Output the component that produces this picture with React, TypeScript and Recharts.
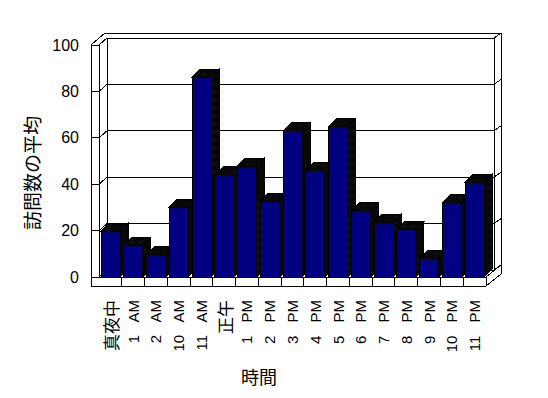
import React from 'react';
import { BarChart, Bar, XAxis, YAxis, CartesianGrid, Label } from 'recharts';

// ---- data ----
const categories = ['真夜中', '1 AM', '2 AM', '10 AM', '11 AM', '正午', '1 PM', '2 PM', '3 PM', '4 PM', '5 PM', '6 PM', '7 PM', '8 PM', '9 PM', '10 PM', '11 PM'];
const visits = [19.8, 13.6, 9.8, 30, 86, 44, 47.8, 32.6, 63, 46, 65, 28.7, 23.6, 20.5, 7.8, 31.9, 40.8];
const yTicks = [0, 20, 40, 60, 80, 100];
const yTitle = '訪問数の平均';
const xTitle = '時間';

const data = categories.map((name, i) => ({ name, value: visits[i] }));

// ---- layout ----
const W = 548;
const H = 398;
const PL = 99;
const PR = 486;
const PT = 45;
const PB = 277;
const D1X = 8, D1Y = 7;   // front -> back wall face
const D2X = 15, D2Y = 12; // front -> back of back wall
const WALL = 8;            // left wall thickness
const FLOOR = 9;           // floor thickness
const BAR_D = 8;

const LATIN = '"Liberation Sans", Arial, sans-serif';
const CJK = '"Noto Sans CJK JP", "Liberation Sans", sans-serif';

const Bar3D = (props: any) => {
  const { x, y, width, height } = props;
  if (!(height > 0)) return null;
  const r = x + width;
  const b = y + height;
  return (
    <g shapeRendering="crispEdges">
      <path d={`M${r},${y} L${r + BAR_D},${y - BAR_D} L${r + BAR_D},${b - BAR_D} L${r},${b} Z`} fill="url(#dither)" stroke="#000" strokeWidth={1} />
      <path d={`M${x},${y} L${x + BAR_D},${y - BAR_D} L${r + BAR_D},${y - BAR_D} L${r},${y} Z`} fill="url(#dither)" stroke="#000" strokeWidth={1} />
      <rect x={x} y={y} width={width} height={height} fill="#000080" stroke="#000" strokeWidth={1} />
    </g>
  );
};

const GridLine = (props: any) => {
  const { x1, x2, y1 } = props;
  const y = y1;
  return (
    <path
      key={props.key}
      d={`M${x1},${y} L${x1 + D1X},${y - D1Y} L${x2 + D1X},${y - D1Y} L${x2 + D2X},${y - D2Y}`}
      fill="none"
      stroke="#000"
      strokeWidth={1}
      shapeRendering="crispEdges"
    />
  );
};

const isCJK = (s: string) => /[^\x00-\x7F]/.test(s);

const XTick = (props: any) => {
  const { x, y, payload } = props;
  const label: string = String(payload.value);
  const cjk = isCJK(label);
  const ay = y + 23;
  return (
    <text
      x={x}
      y={ay}
      transform={`rotate(-90, ${x}, ${ay})`}
      textAnchor="end"
      dominantBaseline="central"
      fontFamily={cjk ? CJK : LATIN}
      fontSize={cjk ? 17 : 15}
      style={{ wordSpacing: cjk ? 0 : 9 }}
      fill="#000"
    >
      {label}
    </text>
  );
};

const Frame = () => {
  const n = categories.length;
  const band = (PR - PL) / n;
  const seps: string[] = [];
  for (let k = 1; k < n; k++) {
    const sx = PL + k * band;
    seps.push(`M${sx},${PB} V${PB + FLOOR}`);
  }
  const d = [
    `M${PL - WALL},${PT} V${PB + FLOOR} H${PR}`,
    `M${PL},${PT} V${PB} H${PR}`,
    `M${PR},${PB} V${PB + FLOOR}`,
    `M${PL - WALL},${PT} L${PL - WALL + D2X - 1},${PT - D2Y}`,
    `M${PL - WALL + D2X - 1},${PT - D2Y} H${PR + D2X} V${PB - D2Y + FLOOR}`,
    `M${PR},${PB + FLOOR} L${PR + D2X},${PB - D2Y + FLOOR}`,
    `M${PR},${PB} L${PR + D2X},${PB - D2Y}`,
    `M${PL + D1X},${PT - D1Y} V${PB - D1Y}`,
    `M${PR + D1X},${PT - D1Y} V${PB - D1Y}`,
    ...seps,
  ].join(' ');
  return (
    <svg width={W} height={H} style={{ position: 'absolute', left: 0, top: 0 }}>
      <defs>
        <pattern id="dither" width="2" height="2" patternUnits="userSpaceOnUse">
          <rect width="2" height="2" fill="#000080" />
          <rect x="0" y="0" width="1" height="1" fill="#000" />
          <rect x="1" y="1" width="1" height="1" fill="#000" />
        </pattern>
      </defs>
      <rect width={W} height={H} fill="#fff" />
      <path d={d} fill="none" stroke="#000" strokeWidth={1} shapeRendering="crispEdges" />
    </svg>
  );
};

export default function App() {
  return (
    <div style={{ position: 'absolute', left: 0, top: 0, width: W, height: H, background: '#fff' }}>
      <Frame />
      <div style={{ position: 'absolute', left: 0, top: 0 }}>
        <BarChart
          width={W}
          height={H}
          data={data}
          margin={{ top: PT, right: W - PR, bottom: 0, left: 0 }}
          barSize={19}
        >
          <CartesianGrid vertical={false} horizontal={(p: any) => <GridLine {...p} />} />
          <XAxis
            dataKey="name"
            interval={0}
            tickLine={false}
            axisLine={false}
            tickSize={0}
            tickMargin={0}
            height={H - PB}
            tick={<XTick />}
            label={
              <Label
                content={() => (
                  <text x={259} y={376} textAnchor="middle" dominantBaseline="central" fontFamily={CJK} fontSize={18} fill="#000">
                    {xTitle}
                  </text>
                )}
              />
            }
          />
          <YAxis
            type="number"
            domain={[0, 100]}
            ticks={yTicks}
            interval={0}
            width={PL}
            axisLine={false}
            tickLine={{ stroke: '#000', shapeRendering: 'crispEdges' }}
            tickSize={WALL}
            tickMargin={12}
            tick={{ fill: '#000', fontSize: 16, fontFamily: LATIN }}
            label={
              <Label
                content={() => (
                  <text x={31} y={173} transform="rotate(-90, 31, 173)" textAnchor="middle" dominantBaseline="central" fontFamily={CJK} fontSize={19} fill="#000">
                    {yTitle}
                  </text>
                )}
              />
            }
          />
          <Bar dataKey="value" isAnimationActive={false} shape={(p: any) => <Bar3D {...p} />} />
        </BarChart>
      </div>
    </div>
  );
}
